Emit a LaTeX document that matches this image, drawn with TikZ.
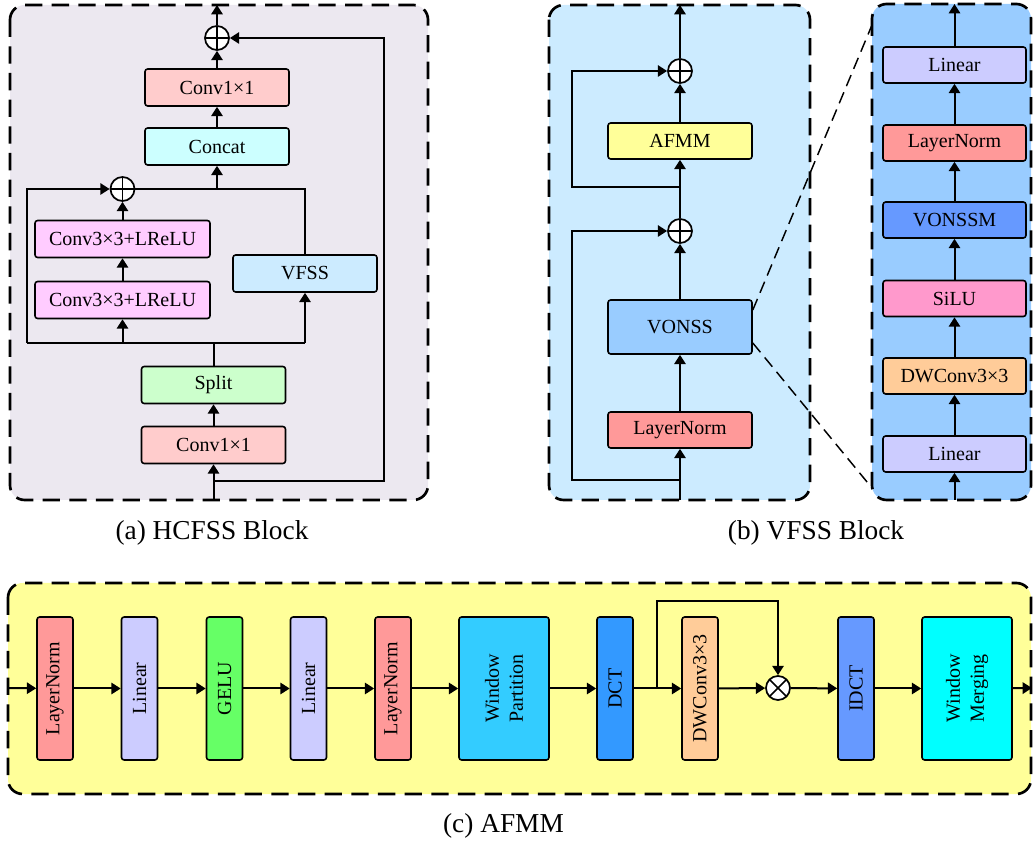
\documentclass[tikz,border=0pt]{standalone}
\usepackage{fontspec}
\setmainfont{Liberation Serif}
\usetikzlibrary{arrows.meta,calc}
\definecolor{bgA}{HTML}{ECE8F0}
\definecolor{bgB}{HTML}{CCEBFF}
\definecolor{bgR}{HTML}{99CCFF}
\definecolor{bgC}{HTML}{FFFF99}
\definecolor{cConv}{HTML}{FFCCCC}
\definecolor{cConcat}{HTML}{CCFFFF}
\definecolor{cConvL}{HTML}{FFCCFF}
\definecolor{cVFSS}{HTML}{CCEBFF}
\definecolor{cSplit}{HTML}{CCFFCC}
\definecolor{cAFMM}{HTML}{FFFF99}
\definecolor{cVONSS}{HTML}{99CCFF}
\definecolor{cLN}{HTML}{FF9999}
\definecolor{cLin}{HTML}{CCCCFF}
\definecolor{cVONSSM}{HTML}{6699FF}
\definecolor{cSiLU}{HTML}{FF99CC}
\definecolor{cDW}{HTML}{FFCC99}
\definecolor{cGELU}{HTML}{66FF66}
\definecolor{cWP}{HTML}{33CCFF}
\definecolor{cDCT}{HTML}{3399FF}
\definecolor{cIDCT}{HTML}{6699FF}
\definecolor{cWM}{HTML}{00FFFF}
\begin{document}
\begin{tikzpicture}[x=0.75pt,y=-0.75pt,
  box/.style={draw=black, line width=1.2pt, rounded corners=2pt, minimum width=108pt, minimum height=27.75pt, inner sep=0pt, font=\fontsize{15}{18}\selectfont, align=center},
  vbox/.style={box, rotate=90, minimum width=107.25pt, minimum height=27pt},
  wbox/.style={vbox, minimum height=67.5pt},
  rbox/.style={box, minimum width=107.25pt, minimum height=27pt},
  conn/.style={line width=1.5pt},
  arr/.style={conn, -{Triangle[width=8.5pt,length=7pt]}},
  panel/.style={dash pattern=on 13pt off 7pt, line width=2pt, rounded corners=11pt},
  zoomline/.style={dash pattern=on 9pt off 5pt, line width=1.1pt},
  sumnode/.style={circle, draw=black, line width=1.3pt, fill=white, minimum size=18pt, inner sep=0pt,
    path picture={\draw[line width=1.3pt] (path picture bounding box.north) -- (path picture bounding box.south)
      (path picture bounding box.west) -- (path picture bounding box.east);}},
  mulnode/.style={circle, draw=black, line width=1.3pt, fill=white, minimum size=18pt, inner sep=0pt,
    path picture={\draw[line width=1.3pt] (path picture bounding box.north west) -- (path picture bounding box.south east)
      (path picture bounding box.south west) -- (path picture bounding box.north east);}},
  captext/.style={font=\fontsize{20.5}{24}\selectfont}
]
\useasboundingbox (0,0) rectangle (1033,841);

% ---------------- (a) HCFSS Block ----------------
\draw[panel, fill=bgA] (10,5) rectangle (428,500);
\node[box, fill=cConv] (a1) at (213.5,445) {Conv1×1};
\node[box, fill=cSplit] (a2) at (213.5,385) {Split};
\node[box, fill=cConvL, minimum width=131.25pt] (a3) at (122.5,300) {Conv3×3+LReLU};
\node[box, fill=cConvL, minimum width=131.25pt] (a4) at (122.5,239) {Conv3×3+LReLU};
\node[box, fill=cVFSS] (a5) at (305,273.5) {VFSS};
\node[sumnode] (aplus2) at (122.5,189) {};
\node[box, fill=cConcat] (a6) at (217,146.5) {Concat};
\node[box, fill=cConv] (a7) at (217,87.5) {Conv1×1};
\node[sumnode] (aplus1) at (217,38) {};
\coordinate (ain) at (213.5,500);
\coordinate (aout) at (217,5);
\coordinate (askip) at (213.5,481);
\coordinate (ar) at (384,481);
\coordinate (asj) at (213.5,343);
\coordinate (aL) at (27,343);
\coordinate (aR) at (305,343);

\draw[arr] (ain) -- (a1);
\draw[arr] (a1) -- (a2);
\draw[conn] (a2) -- (asj);
\draw[conn] (aL) -- (aR);
\draw[arr] (a3 |- aL) -- (a3);
\draw[arr] (a3) -- (a4);
\draw[arr] (a4) -- (aplus2);
\draw[arr] (aL) -- (aL |- aplus2) -- (aplus2);
\draw[arr] (a5 |- aL) -- (a5);
\draw[conn] (a5) -- (a5 |- aplus2) -- (aplus2);
\draw[arr] (a6 |- aplus2) -- (a6);
\draw[arr] (a6) -- (a7);
\draw[arr] (a7) -- (aplus1);
\draw[arr] (aplus1) -- (aout);
\draw[arr] (askip) -- (ar) -- (ar |- aplus1) -- (aplus1);
\node[captext] (capa) at (212,533) {(a) HCFSS Block};

% ---------------- (b) VFSS Block ----------------
\draw[panel, fill=bgB] (549,5) rectangle (810,500);
\node[box, fill=cLN, minimum height=27pt] (b1) at (680,430) {LayerNorm};
\node[box, fill=cVONSS, minimum height=40.5pt] (b2) at (680,327) {VONSS};
\node[sumnode] (bplus1) at (680,231) {};
\node[box, fill=cAFMM, minimum height=27pt] (b3) at (680,141) {AFMM};
\node[sumnode] (bplus2) at (680,71) {};
\coordinate (bin) at (680,500);
\coordinate (bout) at (680,5);
\coordinate (bs1) at (680,480);
\coordinate (bs2) at (680,187);
\coordinate (bl1) at (572,480);
\coordinate (bl2) at (572,187);
\draw[arr] (bin) -- (b1);
\draw[arr] (b1) -- (b2);
\draw[arr] (b2) -- (bplus1);
\draw[arr] (bplus1) -- (b3);
\draw[arr] (b3) -- (bplus2);
\draw[arr] (bplus2) -- (bout);
\draw[arr] (bs1) -- (bl1) -- (bl1 |- bplus1) -- (bplus1);
\draw[arr] (bs2) -- (bl2) -- (bl2 |- bplus2) -- (bplus2);

% right zoom panel
\draw[panel, fill=bgR] (872,4) rectangle (1031,500);
\node[rbox, fill=cLin] (r1) at (954.5,454) {Linear};
\node[rbox, fill=cDW] (r2) at (954.5,376) {DWConv3×3};
\node[rbox, fill=cSiLU] (r3) at (954.5,298.5) {SiLU};
\node[rbox, fill=cVONSSM] (r4) at (954.5,220) {VONSSM};
\node[rbox, fill=cLN] (r5) at (954.5,143) {LayerNorm};
\node[rbox, fill=cLin] (r6) at (954.5,65) {Linear};
\coordinate (rin) at (954.5,500);
\coordinate (rout) at (954.5,4);
\draw[arr] (rin) -- (r1);
\draw[arr] (r1) -- (r2);
\draw[arr] (r2) -- (r3);
\draw[arr] (r3) -- (r4);
\draw[arr] (r4) -- (r5);
\draw[arr] (r5) -- (r6);
\draw[arr] (r6) -- (rout);

\coordinate (zt) at (872,25);
\coordinate (zb) at (872,488);
\draw[zoomline] ($(b2.east)+(0,-17)$) -- (zt);
\draw[zoomline] ($(b2.east)+(0,16)$) -- (zb);
\node[captext] (capb) at (816,533) {(b) VFSS Block};

% ---------------- (c) AFMM ----------------
\draw[panel, fill=bgC] (8,583) rectangle (1031,794);
\node[vbox, fill=cLN] (c1) at (55,688.5) {LayerNorm};
\node[vbox, fill=cLin] (c2) at (139.5,688.5) {Linear};
\node[vbox, fill=cGELU] (c3) at (224.5,688.5) {GELU};
\node[vbox, fill=cLin] (c4) at (308.5,688.5) {Linear};
\node[vbox, fill=cLN] (c5) at (393,688.5) {LayerNorm};
\node[wbox, fill=cWP] (c6) at (504,688.5) {Window\\Partition};
\node[vbox, fill=cDCT] (c7) at (615,688.5) {DCT};
\node[vbox, fill=cDW] (c8) at (700,688.5) {DWConv3×3};
\node[mulnode] (cx) at (778,688) {};
\node[vbox, fill=cIDCT] (c9) at (856,688.5) {IDCT};
\node[wbox, fill=cWM] (c10) at (967,688.5) {Window\\Merging};
\coordinate (cin) at (8,688);
\coordinate (cout) at (1032,688);
\coordinate (cb) at (657,688);
\coordinate (cbt) at (657,601);
\draw[arr] (cin) -- (c1);
\draw[arr] (c1) -- (c2);
\draw[arr] (c2) -- (c3);
\draw[arr] (c3) -- (c4);
\draw[arr] (c4) -- (c5);
\draw[arr] (c5) -- (c6);
\draw[arr] (c6) -- (c7);
\draw[arr] (c7) -- (c8);
\draw[arr] (c8) -- (cx);
\draw[arr] (cb) -- (cbt) -- (cbt -| cx) -- (cx);
\draw[arr] (cx) -- (c9);
\draw[arr] (c9) -- (c10);
\draw[arr] (c10) -- (cout);
\node[captext] (capc) at (503.5,826) {(c) AFMM};
\end{tikzpicture}
\end{document}
